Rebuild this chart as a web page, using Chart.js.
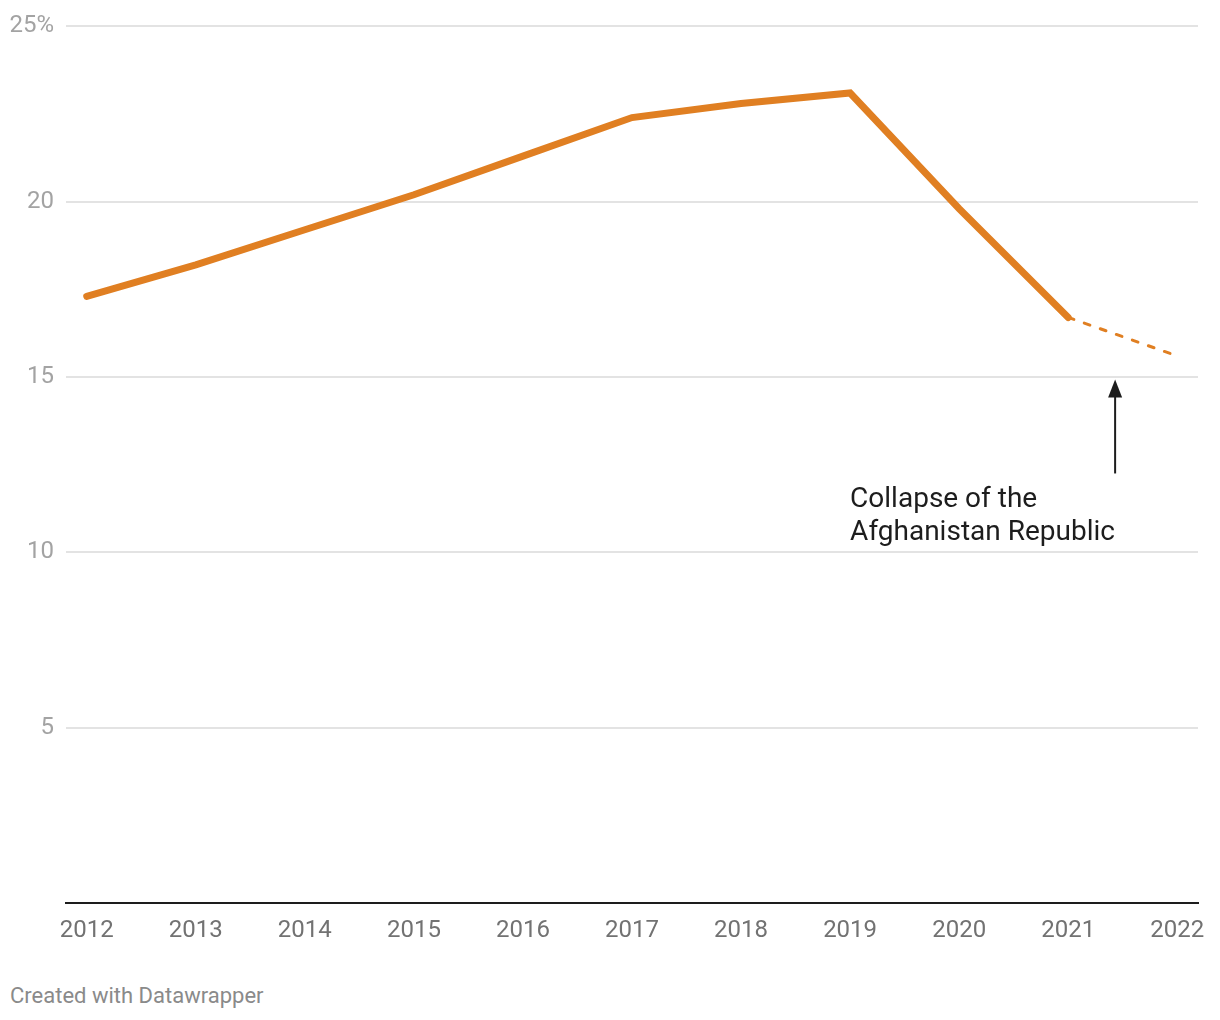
<!DOCTYPE html>
<html>
<head>
<meta charset="utf-8">
<script src="https://cdn.jsdelivr.net/npm/chart.js@4/dist/chart.umd.min.js"></script>
<style>
  html, body { margin: 0; padding: 0; background: #fff; }
  body { width: 1220px; height: 1020px; position: relative; font-family: Roboto, sans-serif; }
  #wrap { position: absolute; left: 0; top: 0; width: 1220px; height: 960px; }
  #credit { position: absolute; left: 10px; top: 983px; font-size: 22px; color: #8a8a8a; }
</style>
</head>
<body>
<div id="wrap"><canvas id="myChart" width="1220" height="960"></canvas></div>
<div id="credit">Created with Datawrapper</div>
<script>
const years = [2012, 2013, 2014, 2015, 2016, 2017, 2018, 2019, 2020, 2021, 2022];
const shares = [17.3, 18.2, 19.2, 20.2, 21.3, 22.4, 22.8, 23.1, 19.8, 16.7, 15.6];
const yTicks = [0, 5, 10, 15, 20, 25];

// annotation, in data units
const noteLines = ['Collapse of the', 'Afghanistan Republic'];
const noteAt = [2019, 11.5];
const arrowX = 2021.43;
const arrowFromTo = [12.25, 14.93];

const orange = '#e07f22';

// last two points drawn dashed (estimate)
const solidPts = years.slice(0, 10).map((y, i) => ({ x: y, y: shares[i] }));
const dashPts = years.slice(9).map((y, i) => ({ x: y, y: shares[i + 9] }));

const annotate = {
  id: 'annotate',
  afterDatasetsDraw(chart) {
    const { ctx, scales: { x, y } } = chart;
    const ax = x.getPixelForValue(arrowX);
    const y0 = y.getPixelForValue(arrowFromTo[0]);
    const y1 = y.getPixelForValue(arrowFromTo[1]);
    ctx.save();
    ctx.strokeStyle = '#1d1d1d';
    ctx.fillStyle = '#1d1d1d';
    ctx.lineWidth = 2;
    ctx.beginPath();
    ctx.moveTo(ax, y0);
    ctx.lineTo(ax, y1 + 10);
    ctx.stroke();
    ctx.beginPath();
    ctx.moveTo(ax, y1);
    ctx.lineTo(ax - 7, y1 + 18);
    ctx.lineTo(ax + 7, y1 + 18);
    ctx.closePath();
    ctx.fill();

    ctx.font = '28px Roboto';
    ctx.textAlign = 'left';
    ctx.textBaseline = 'middle';
    const tx = x.getPixelForValue(noteAt[0]);
    const ty = y.getPixelForValue(noteAt[1]);
    noteLines.forEach((t, i) => ctx.fillText(t, tx, ty + i * 33));
    ctx.restore();
  }
};

const ctx = document.getElementById('myChart').getContext('2d');
new Chart(ctx, {
  type: 'line',
  data: {
    datasets: [
      {
        data: solidPts,
        borderColor: orange,
        borderWidth: 7,
        borderCapStyle: 'round',
        borderJoinStyle: 'miter',
        pointRadius: 0,
        tension: 0
      },
      {
        data: dashPts,
        borderColor: orange,
        borderWidth: 3,
        borderDash: [6, 11],
        borderCapStyle: 'round',
        pointRadius: 0,
        tension: 0
      }
    ]
  },
  options: {
    responsive: false,
    animation: false,
    layout: { padding: { top: 23, right: 22, left: 0, bottom: 0 } },
    plugins: { legend: { display: false }, tooltip: { enabled: false } },
    scales: {
      x: {
        type: 'linear',
        min: 2011.81,
        max: 2022.19,
        afterBuildTicks: axis => { axis.ticks = years.map(v => ({ value: v })); },
        afterFit: axis => { axis.height = 57; },
        grid: { display: false, drawTicks: false },
        border: { display: true, color: '#1d1d1d', width: 2 },
        ticks: {
          padding: 14,
          color: '#727272',
          font: { family: 'Roboto', size: 24 },
          callback: v => String(v),
          maxRotation: 0,
          autoSkip: false
        }
      },
      y: {
        min: 0,
        max: 25,
        afterBuildTicks: axis => { axis.ticks = yTicks.map(v => ({ value: v })); },
        afterFit: axis => { axis.width = 66; },
        border: { display: false },
        grid: {
          drawTicks: false,
          color: ctx => ctx.tick.value === 0 ? 'rgba(0,0,0,0)' : '#e3e3e3',
          lineWidth: 2
        },
        ticks: {
          padding: 12,
          color: '#a3a3a3',
          font: { family: 'Roboto', size: 24 },
          callback: v => v === 0 ? '' : (v === 25 ? '25%' : String(v))
        }
      }
    }
  },
  plugins: [annotate]
});
</script>
</body>
</html>
